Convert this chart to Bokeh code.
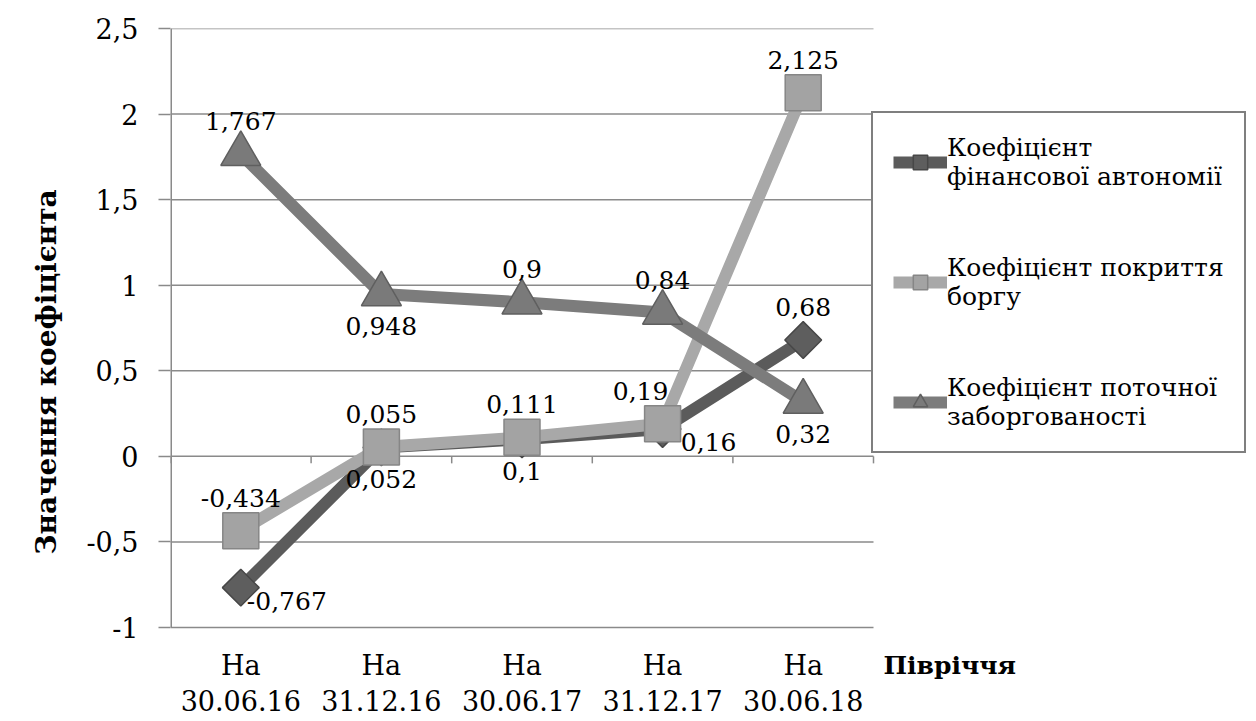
import math
from bokeh.plotting import figure
from bokeh.models import Range1d, FixedTicker, Legend, LegendItem, ColumnDataSource
from bokeh.core.properties import value
from bokeh.embed import file_html
from bokeh.resources import INLINE

# ---- data ----
periods = ["На\n30.06.16", "На\n31.12.16", "На\n30.06.17", "На\n31.12.17", "На\n30.06.18"]
autonomy = [-0.767, 0.052, 0.1, 0.16, 0.68]
debt_cover = [-0.434, 0.055, 0.111, 0.19, 2.125]
current_debt = [1.767, 0.948, 0.9, 0.84, 0.32]
autonomy_labels = ["-0,767", "0,052", "0,1", "0,16", "0,68"]
debt_cover_labels = ["-0,434", "0,055", "0,111", "0,19", "2,125"]
current_debt_labels = ["1,767", "0,948", "0,9", "0,84", "0,32"]
series_names = ["Коефіцієнт\nфінансової автономії",
                "Коефіцієнт покриття\nборгу",
                "Коефіцієнт поточної\nзаборгованості"]
y_ticks = [-1, -0.5, 0, 0.5, 1, 1.5, 2, 2.5]
y_tick_labels = ["-1", "-0,5", "0", "0,5", "1", "1,5", "2", "2,5"]
y_title = "Значення коефіцієнта"
x_title = "Півріччя"

# label placements (style, not data)
autonomy_place = ["right", "below", "below", "right", "above"]
debt_cover_place = ["above", "above", "above", "above_left", "above"]
current_debt_place = ["above", "below", "above", "above", "below"]
OFFS = {"above": (0, -33), "below": (0, 32), "right": (46, 13), "above_left": (-22, -33)}

FONT = "DejaVu Serif"
W, H = 1256, 721
AX_L, AX_R, AX_T, AX_B = 170, 873, 28, 627
FR, FB = 1250, 715

n = len(periods)
xs = [i + 0.5 for i in range(n)]
ppu_y = (AX_B - AX_T) / (y_ticks[-1] - y_ticks[0])
ppu_x = (AX_R - AX_L) / n
y_lo = y_ticks[0] - (FB - AX_B) / ppu_y
x_hi = n + (FR - AX_R) / ppu_x

p = figure(width=W, height=H, output_backend="svg", toolbar_location=None,
           x_range=Range1d(0, x_hi), y_range=Range1d(y_lo, y_ticks[-1]),
           min_border_left=AX_L, min_border_right=W - FR,
           min_border_top=AX_T, min_border_bottom=H - FB)
p.outline_line_color = None
p.background_fill_color = "white"
p.border_fill_color = "white"

grid_col = "#8a8a8a"
p.xgrid.visible = False
p.ygrid.visible = False
p.xaxis.visible = False

p.segment(x0=[0] * len(y_ticks), y0=y_ticks, x1=[n] * len(y_ticks), y1=y_ticks,
          line_color=grid_col, line_width=1.5)
p.segment(x0=[0], y0=[y_ticks[0]], x1=[0], y1=[y_ticks[-1]],
          line_color=grid_col, line_width=3)
bounds = list(range(n + 1))
p.segment(x0=bounds, y0=[0] * len(bounds), x1=bounds, y1=[-7 / ppu_y] * len(bounds),
          line_color=grid_col, line_width=1.5)

ya = p.yaxis[0]
ya.ticker = FixedTicker(ticks=y_ticks)
ya.major_label_overrides = {t: l for t, l in zip(y_ticks, y_tick_labels)}
ya.axis_line_color = None
ya.major_tick_line_color = grid_col
ya.major_tick_line_width = 1.5
ya.major_tick_out = 12
ya.major_tick_in = 0
ya.minor_tick_line_color = None
ya.major_label_standoff = 20
ya.major_label_text_font = FONT
ya.major_label_text_font_size = "27px"
ya.major_label_text_color = "black"
ya.axis_label = y_title
ya.axis_label_text_font = FONT
ya.axis_label_text_font_size = "28px"
ya.axis_label_text_font_style = "bold"
ya.axis_label_text_color = "black"
ya.axis_label_standoff = 20

top_line = [s.split("\n")[0] for s in periods]
bot_line = [s.split("\n")[1] for s in periods]
p.text(x=xs, y=[y_ticks[0]] * n, text=top_line, y_offset=38, text_align="center",
       text_baseline="middle", text_font=value(FONT), text_font_size="27px", text_color="black")
p.text(x=xs, y=[y_ticks[0]] * n, text=bot_line, y_offset=73, text_align="center",
       text_baseline="middle", text_font=value(FONT), text_font_size="27px", text_color="black")
p.text(x=[n], y=[y_ticks[0]], text=[x_title], x_offset=10, y_offset=38, text_align="left",
       text_baseline="middle", text_font=value(FONT), text_font_size="25px",
       text_font_style="bold", text_color="black")

styles = [
    dict(color="#5b5b5b", fill="#5e5e5e", edge="#474747", marker="square", size=26, angle=math.pi / 4),
    dict(color="#a8a8a8", fill="#a3a3a3", edge="#868686", marker="square", size=36, angle=0),
    dict(color="#7c7c7c", fill="#7a7a7a", edge="#5f5f5f", marker="triangle", size=40, angle=0),
]
data_sets = [(autonomy, autonomy_labels, autonomy_place),
             (debt_cover, debt_cover_labels, debt_cover_place),
             (current_debt, current_debt_labels, current_debt_place)]

renderers = []
for (vals, labs, place), st, name in zip(data_sets, styles, series_names):
    lr = p.line(xs, vals, line_color=st["color"], line_width=12, line_join="round")
    mr = p.scatter(xs, vals, marker=st["marker"], size=st["size"], angle=st["angle"],
                   fill_color=st["fill"], line_color=st["edge"], line_width=1.5)
    renderers.append((lr, mr, name))

for (vals, labs, place), st in zip(data_sets, styles):
    src = ColumnDataSource(dict(x=xs, y=vals, t=labs,
                                dx=[OFFS[q][0] for q in place],
                                dy=[OFFS[q][1] for q in place]))
    p.text(x="x", y="y", text="t", x_offset="dx", y_offset="dy", source=src,
           text_align="center", text_baseline="middle", text_font=value(FONT),
           text_font_size="25px", text_color="black")

items = [LegendItem(label=name, renderers=[lr, mr]) for lr, mr, name in renderers]

legend = Legend(items=items, location=(871 - AX_L, FB - 453))
legend.label_text_font = FONT
legend.label_text_font_size = "25px"
legend.label_text_color = "black"
legend.glyph_width = 54
legend.glyph_height = 36
legend.label_standoff = 0
legend.spacing = 62
legend.padding = 20
legend.margin = 0
legend.border_line_color = "black"
legend.border_line_width = 2
legend.background_fill_color = "white"
legend.background_fill_alpha = 1
p.add_layout(legend, "center")

open("out.html", "w").write(file_html(p, INLINE))
